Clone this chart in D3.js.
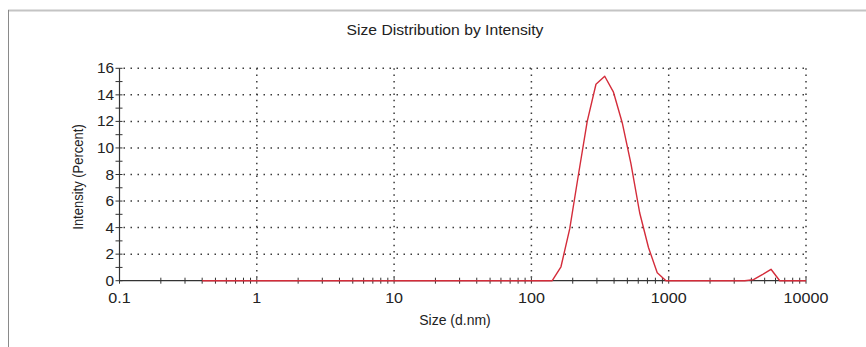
<!DOCTYPE html>
<html>
<head>
<meta charset="utf-8">
<script src="https://cdn.jsdelivr.net/npm/d3@7"></script>
<style>
  body { margin: 0; background: #fff; }
  svg { display: block; font-family: "Liberation Sans", Arial, sans-serif; }
</style>
</head>
<body>
<div id="chart"></div>
<script>
// Size distribution by intensity (DLS), log x axis

// Size bins (d.nm) as reported by the instrument
const sizes = [0.4, 0.4632, 0.5365, 0.6213, 0.7195, 0.8332, 0.9649, 1.117, 1.294, 1.499,
    1.736, 2.010, 2.328, 2.696, 3.122, 3.615, 4.187, 4.849, 5.615, 6.503,
    7.531, 8.721, 10.10, 11.70, 13.54, 15.69, 18.17, 21.04, 24.36, 28.21,
    32.67, 37.84, 43.82, 50.75, 58.77, 68.06, 78.82, 91.28, 105.7, 122.4,
    141.8, 164.2, 190.1, 220.2, 255.0, 295.3, 342.0, 396.1, 458.7, 531.2,
    615.1, 712.4, 825.0, 955.4, 1106, 1281, 1484, 1718, 1990, 2305,
    2669, 3091, 3580, 4145, 4801, 5560, 6439, 7456, 8635, 10000];

// Intensity (%) per bin
const intensity = [0, 0, 0, 0, 0, 0, 0, 0, 0, 0,
    0, 0, 0, 0, 0, 0, 0, 0, 0, 0,
    0, 0, 0, 0, 0, 0, 0, 0, 0, 0,
    0, 0, 0, 0, 0, 0, 0, 0, 0, 0,
    0, 1.05, 3.9, 8.0, 12.0, 14.8, 15.4, 14.2, 11.9, 8.8,
    5.1, 2.5, 0.6, 0, 0, 0, 0, 0, 0, 0,
    0, 0, 0, 0.08, 0.45, 0.86, 0, 0, 0, 0];

const xTickValues = [0.1, 1, 10, 100, 1000, 10000];
const xTickLabels = ["0.1", "1", "10", "100", "1000", "10000"];
const yTickValues = [0, 2, 4, 6, 8, 10, 12, 14, 16];

const data = sizes.map((s, i) => ({ size: s, value: intensity[i] }));

const W = 866, H = 347;
const plot = { left: 119.5, right: 806, top: 68.3, bottom: 280.7 };

const svg = d3.select("#chart")
    .append("svg")
    .attr("width", W)
    .attr("height", H);

// Frame lines (top and left)
svg.append("line")
    .attr("x1", 8).attr("x2", W).attr("y1", 10.5).attr("y2", 10.5)
    .attr("stroke", "#c4c4c4").attr("stroke-width", 2);
svg.append("line")
    .attr("x1", 8.5).attr("x2", 8.5).attr("y1", 10).attr("y2", H)
    .attr("stroke", "#8a8a8a").attr("stroke-width", 1);

// Scales
const x = d3.scaleLog()
    .domain([0.1, 10000])
    .range([plot.left, plot.right]);
const y = d3.scaleLinear()
    .domain([0, 16])
    .range([plot.bottom, plot.top]);

// Dotted grid
svg.append("g")
    .selectAll("line")
    .data(yTickValues.filter(d => d > 0))
    .enter().append("line")
    .attr("x1", plot.left + 4).attr("x2", plot.right)
    .attr("y1", d => y(d)).attr("y2", d => y(d))
    .attr("stroke", "#3a3a3a")
    .attr("stroke-width", 1.5)
    .attr("stroke-dasharray", "1.5,5.5");

svg.append("g")
    .selectAll("line")
    .data(xTickValues.filter(d => d > 0.1))
    .enter().append("line")
    .attr("x1", d => x(d)).attr("x2", d => x(d))
    .attr("y1", plot.top).attr("y2", plot.bottom - 3)
    .attr("stroke", "#3a3a3a")
    .attr("stroke-width", 1.5)
    .attr("stroke-dasharray", "1.5,4.8");

// Y axis
svg.append("line")
    .attr("x1", plot.left).attr("x2", plot.left)
    .attr("y1", plot.top).attr("y2", plot.bottom)
    .attr("stroke", "#333").attr("stroke-width", 1.2);

const yMinor = d3.range(1, 16, 2);
svg.append("g")
    .selectAll("line")
    .data(yTickValues.concat(yMinor))
    .enter().append("line")
    .attr("x1", plot.left - 4).attr("x2", plot.left + 3)
    .attr("y1", d => y(d)).attr("y2", d => y(d))
    .attr("stroke", "#333").attr("stroke-width", 1);

svg.append("g")
    .selectAll("text")
    .data(yTickValues)
    .enter().append("text")
    .attr("transform", d => `translate(${plot.left - 5.5},${y(d)}) scale(1.1,1)`)
    .attr("dy", "0.36em")
    .attr("text-anchor", "end")
    .style("font-size", "14px")
    .style("fill", "#222")
    .text(d => d);

// X axis
svg.append("line")
    .attr("x1", plot.left).attr("x2", plot.right)
    .attr("y1", plot.bottom).attr("y2", plot.bottom)
    .attr("stroke", "#333").attr("stroke-width", 1.2);

const xMinor = [];
xTickValues.slice(0, -1).forEach(d => {
    [2, 3, 4, 5, 6, 7, 8, 9].forEach(k => xMinor.push(d * k));
});
svg.append("g")
    .selectAll("line")
    .data(xTickValues.concat(xMinor))
    .enter().append("line")
    .attr("x1", d => x(d)).attr("x2", d => x(d))
    .attr("y1", plot.bottom - 3).attr("y2", plot.bottom + 3)
    .attr("stroke", "#333").attr("stroke-width", 1);

// x tick labels look slightly stretched in the reference
svg.append("g")
    .selectAll("text")
    .data(xTickValues)
    .enter().append("text")
    .attr("transform", d => `translate(${x(d)},${plot.bottom + 22}) scale(1.15,1)`)
    .attr("text-anchor", "middle")
    .style("font-size", "14px")
    .style("fill", "#222")
    .text((d, i) => xTickLabels[i]);

// Distribution line
const line = d3.line()
    .x(d => x(d.size))
    .y(d => y(d.value));

svg.append("path")
    .datum(data)
    .attr("fill", "none")
    .attr("stroke", "#d42c3a")
    .attr("stroke-width", 1.4)
    .attr("stroke-linejoin", "round")
    .attr("d", line);

// Titles
svg.append("text")
    .attr("transform", "translate(445,35) scale(1.12,1)")
    .attr("text-anchor", "middle")
    .style("font-size", "14px")
    .style("fill", "#222")
    .text("Size Distribution by Intensity");

svg.append("text")
    .attr("x", 455)
    .attr("y", 325)
    .attr("text-anchor", "middle")
    .style("font-size", "14px")
    .style("fill", "#222")
    .text("Size (d.nm)");

svg.append("text")
    .attr("transform", "translate(83,177) rotate(-90) scale(1,1.12)")
    .attr("text-anchor", "middle")
    .style("font-size", "13px")
    .style("fill", "#222")
    .text("Intensity (Percent)");
</script>
</body>
</html>
